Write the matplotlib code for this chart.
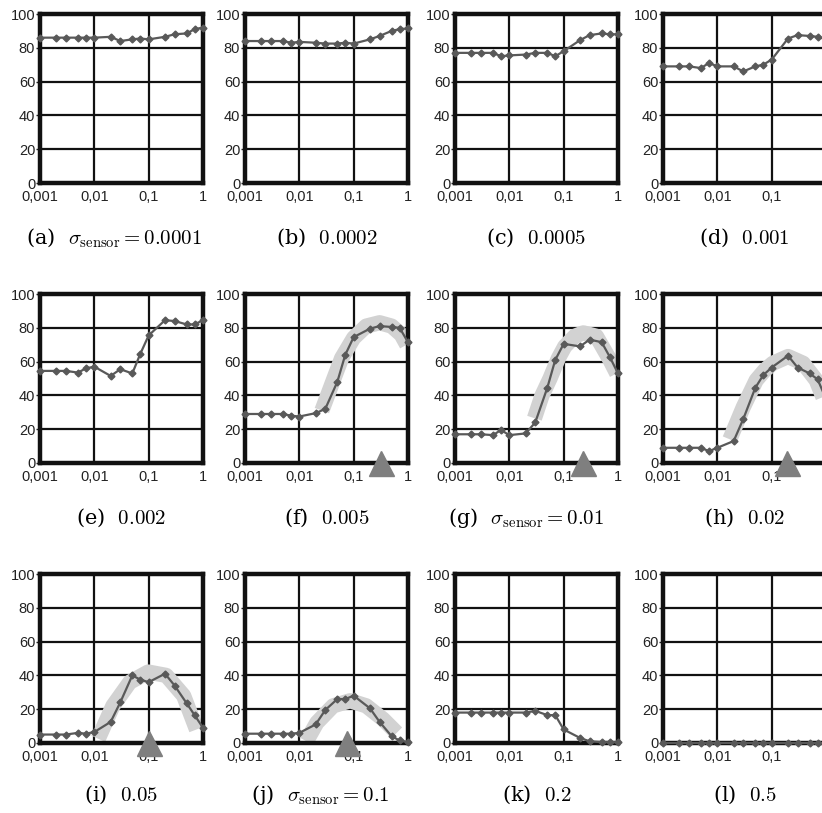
import numpy as np
import matplotlib
matplotlib.use("Agg")
from matplotlib import pyplot as plt

plt.rcParams['mathtext.fontset'] = 'cm'

# noise levels (x axis), shared by every panel
x_vals = [0.001, 0.002, 0.003, 0.005, 0.007, 0.01, 0.02, 0.03, 0.05, 0.07,
          0.1, 0.2, 0.3, 0.5, 0.7, 1.0]
x_ticks = [0.001, 0.01, 0.1, 1]
x_ticklabels = ['0,001', '0,01', '0,1', '1']
y_ticks = [0, 20, 40, 60, 80, 100]

# panel values
y_a = [86, 86, 86, 86, 86, 86, 86.5, 84, 85, 85.5, 85, 86.5, 88, 88.5, 91, 92]
y_b = [84, 84, 84, 84, 83, 83.5, 83, 82.5, 82.5, 83, 82.5, 85, 87, 90, 91, 91.5]
y_c = [77, 77, 77, 77, 75, 75.5, 76, 77, 77, 75, 78, 84.5, 87.5, 88.5, 88, 88]
y_d = [69, 69, 69, 68, 71, 69, 69, 66, 69, 70, 73, 85.5, 87.5, 87, 86.5, 85]
y_e = [54.5, 54.5, 54.5, 53.5, 56, 57, 51.5, 55.5, 53, 64.5, 75.5, 84.5, 84, 82, 82, 84.5]
y_f = [29, 29, 29, 29, 28, 27.5, 29.5, 32, 48, 64, 74.5, 79.5, 81, 80.5, 80, 71.5]
y_g = [17, 17, 17, 16.5, 19.5, 16.5, 17.5, 24, 44.5, 61, 70.5, 69, 73, 71.5, 63, 53]
y_h = [9, 9, 9, 9, 7, 9, 13, 26, 44.5, 52, 56.5, 63.5, 56.5, 53, 49.5, 38]
y_i = [5, 5, 5, 6, 5.5, 6.5, 12.5, 24, 40, 37.5, 36, 41, 34, 23.5, 16.5, 9]
y_j = [5.5, 5.5, 5.5, 5.5, 5.5, 6, 11, 19.5, 26, 26, 28, 20.5, 12.5, 4, 1.5, 0.5]
y_k = [18, 18, 18, 18, 18, 18, 18, 19, 16.5, 16.5, 8, 3, 1, 0.5, 0.5, 0.5]
y_l = [0, 0, 0, 0, 0, 0, 0, 0, 0, 0, 0, 0, 0, 0, 0, 0]

# grey highlight bands (hand-drawn fits)
band_f_x = [0.026, 0.04, 0.06, 0.1, 0.17, 0.3, 0.5, 0.75, 0.95]
band_f_y = [31, 47, 62, 74, 81, 83, 81, 76, 70]
band_g_x = [0.029, 0.04, 0.056, 0.08, 0.105, 0.16, 0.23, 0.4, 0.71, 0.95]
band_g_y = [26.5, 40, 50, 62, 69, 75, 77, 75, 61, 53]
band_h_x = [0.017, 0.03, 0.052, 0.075, 0.105, 0.2, 0.38, 0.66, 0.88]
band_h_y = [14, 33, 49, 55, 59, 63, 59, 49, 39]
band_i_x = [0.0118, 0.022, 0.045, 0.098, 0.21, 0.44, 0.76]
band_i_y = [2.5, 22, 36, 42, 40, 28, 8]
band_j_x = [0.0135, 0.021, 0.042, 0.086, 0.17, 0.35, 0.62]
band_j_y = [1, 12, 22, 25, 22, 14, 6]

# triangle markers (optimum)
tri_f = 0.32
tri_g = 0.23
tri_h = 0.19
tri_i = 0.1
tri_j = 0.074

captions = [r'(a)  $\sigma_{\rm sensor}=0.0001$', '(b)  $0.0002$', '(c)  $0.0005$',
            '(d)  $0.001$', '(e)  $0.002$', '(f)  $0.005$',
            r'(g)  $\sigma_{\rm sensor}=0.01$', '(h)  $0.02$', '(i)  $0.05$',
            r'(j)  $\sigma_{\rm sensor}=0.1$', '(k)  $0.2$', '(l)  $0.5$']

series = [y_a, y_b, y_c, y_d, y_e, y_f, y_g, y_h, y_i, y_j, y_k, y_l]
bands = {5: (band_f_x, band_f_y), 6: (band_g_x, band_g_y), 7: (band_h_x, band_h_y),
         8: (band_i_x, band_i_y), 9: (band_j_x, band_j_y)}
tris = {5: tri_f, 6: tri_g, 7: tri_h, 8: tri_i, 9: tri_j}

W, H = 822, 813
fig = plt.figure(figsize=(W / 100, H / 100), dpi=100)

col_left = [40, 245, 455, 663]
row_top = [14, 294, 574]
ax_w, ax_h = 163, 169
cap_y = [238, 518, 795]
cap_shift = {0: -8, 6: -10, 9: -6}

for i, ys in enumerate(series):
    r, c = divmod(i, 4)
    l = col_left[c]
    t = row_top[r]
    ax = fig.add_axes([l / W, 1 - (t + ax_h) / H, ax_w / W, ax_h / H])
    ax.set_xscale('log')
    ax.set_xlim(0.001, 1)
    ax.set_ylim(0, 100)
    ax.set_yticks(y_ticks)
    # last column runs off the page, its "1" label is not visible
    if c == 3:
        ax.set_xticks(x_ticks[:-1])
        ax.set_xticklabels(x_ticklabels[:-1])
    else:
        ax.set_xticks(x_ticks)
        ax.set_xticklabels(x_ticklabels)
    ax.minorticks_off()
    ax.grid(True, color='#111111', linewidth=1.6, zorder=0)
    ax.set_axisbelow(True)
    for s in ax.spines.values():
        s.set_linewidth(3.2)
        s.set_color('#111111')
    ax.tick_params(axis='y', length=3, width=1, pad=0.5, labelsize=10.5,
                   colors='#222222')
    ax.tick_params(axis='x', length=0, pad=5, labelsize=10.5, colors='#222222')
    for lab in ax.get_xticklabels() + ax.get_yticklabels():
        lab.set_family('Liberation Sans')

    if i in bands:
        bx, by = bands[i]
        ax.plot(bx, by, color='#d2d2d2', linewidth=11, solid_capstyle='butt',
                solid_joinstyle='round', zorder=2)
    ax.plot(x_vals, ys, color='#595959', linewidth=1.6, marker='D',
            markersize=3.5, zorder=5, clip_on=False)
    if i in tris:
        ax.plot([tris[i]], [0], marker='^', markersize=18, color='#7f7f7f',
                linestyle='none', zorder=6, clip_on=False)

    cx = l + ax_w / 2 + cap_shift.get(i, 0)
    fig.text(cx / W, 1 - cap_y[r] / H, captions[i], ha='center',
             va='center', fontsize=15, family='DejaVu Serif',
             math_fontfamily='cm')

fig.savefig('out.png', dpi=100)
